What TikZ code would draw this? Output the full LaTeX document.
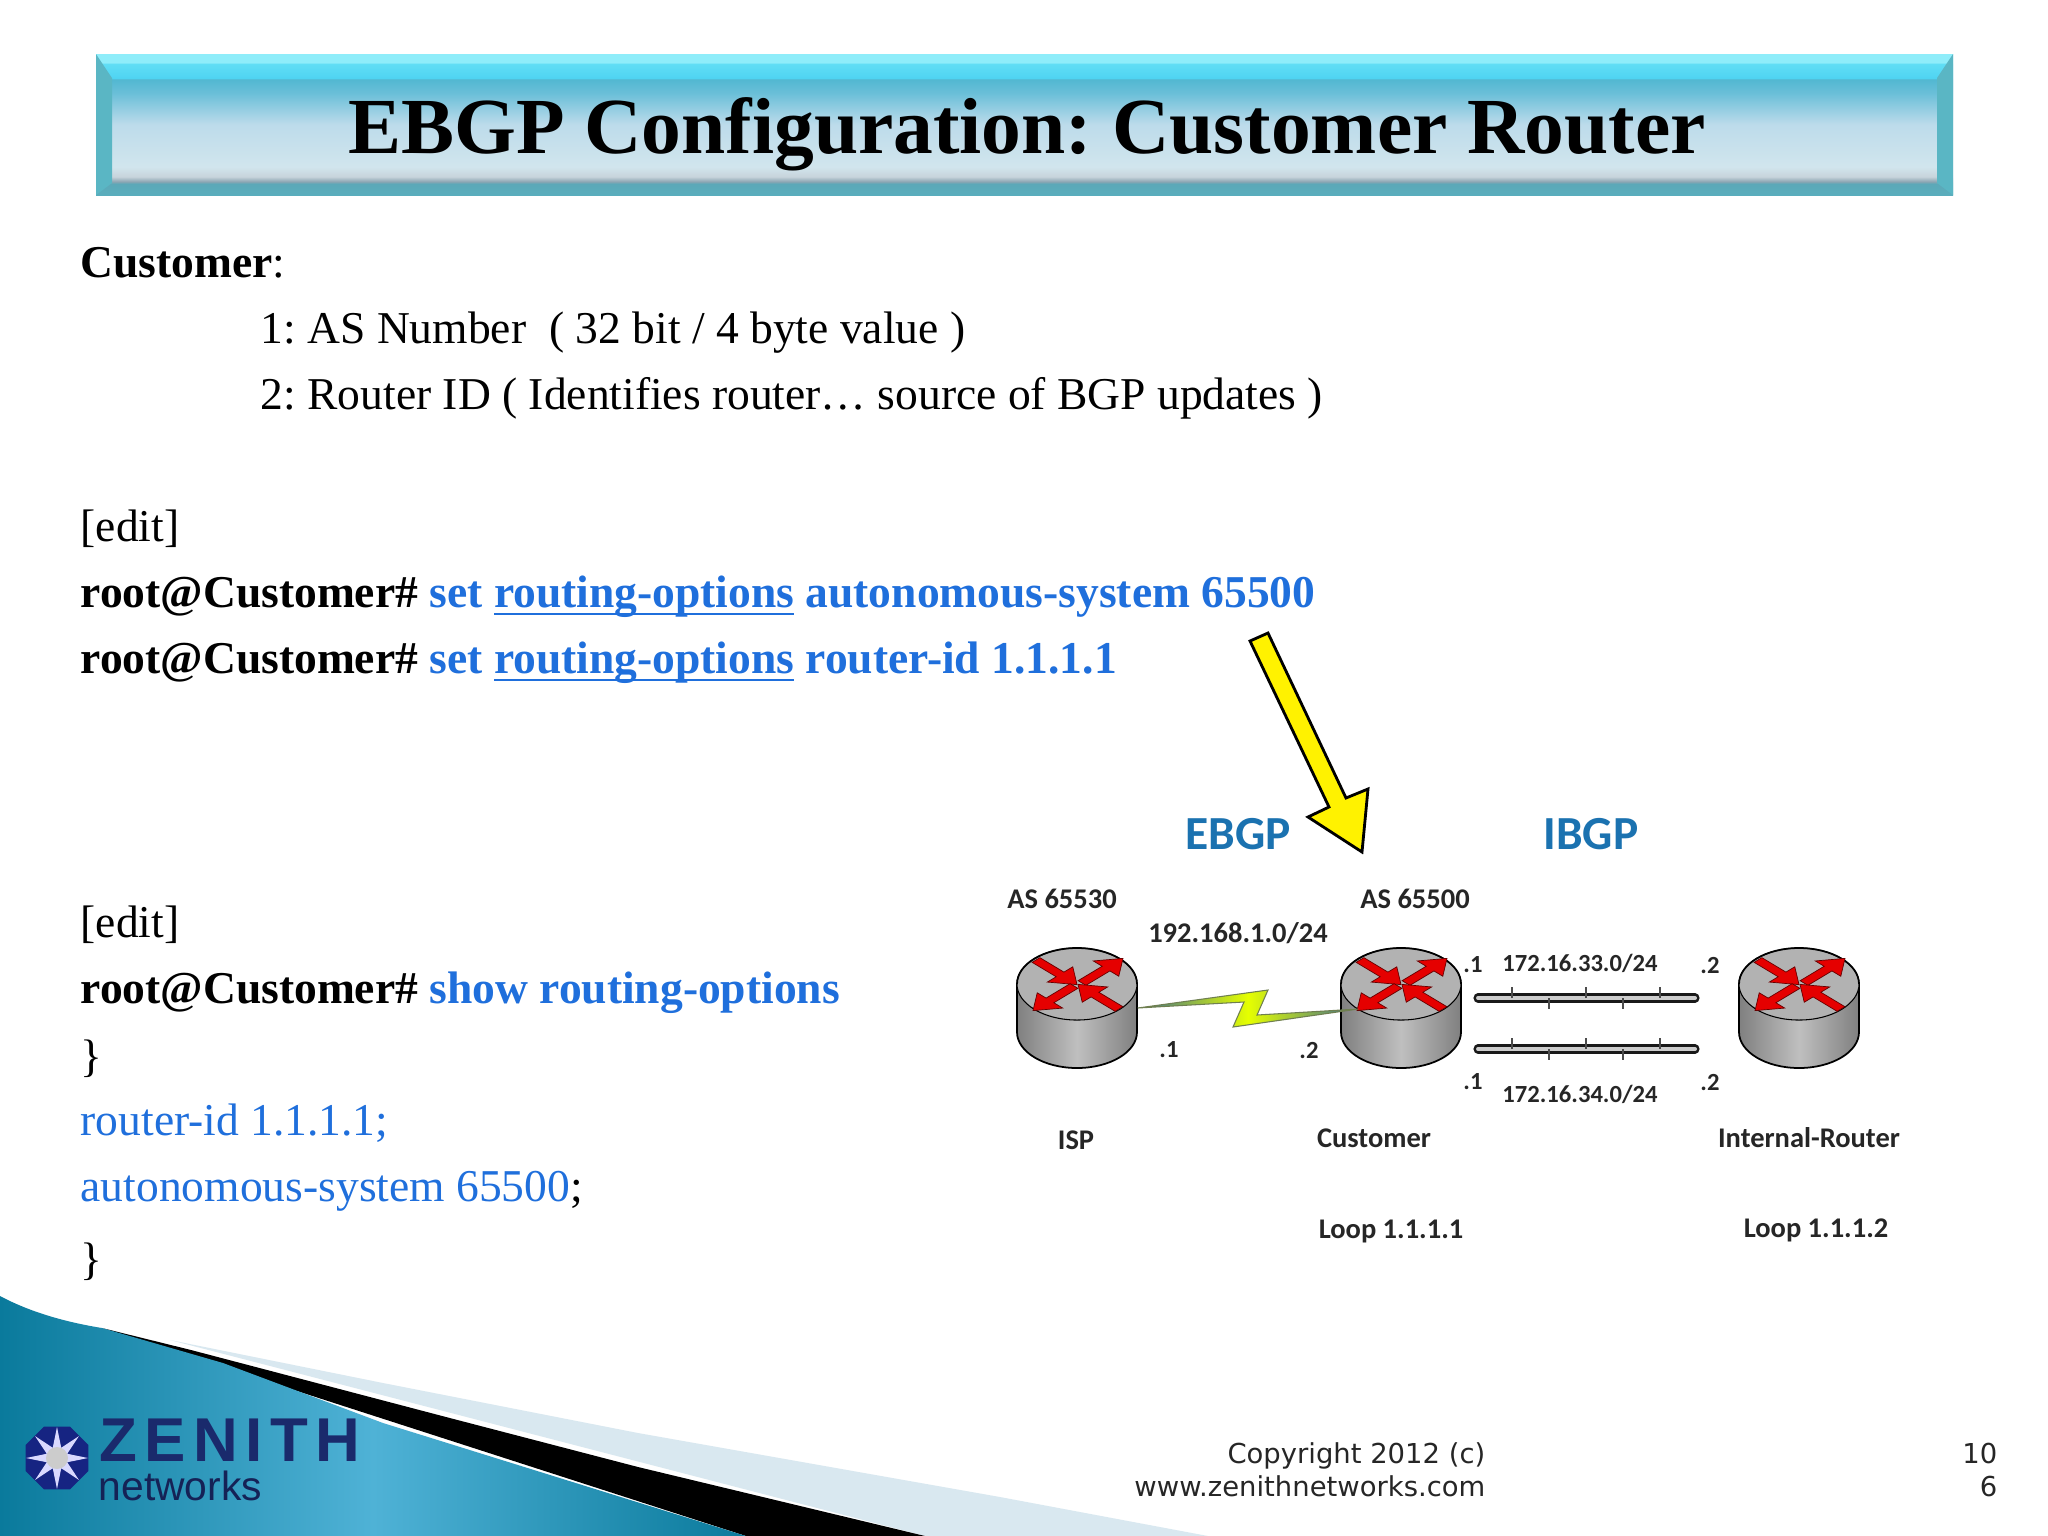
\documentclass[tikz,border=0pt]{standalone}
\usepackage{fontspec}
\setmainfont{Liberation Serif}
\newfontfamily\labelfont{Carlito}
\newfontfamily\footfont{DejaVu Sans}
\newfontfamily\logofont{Liberation Sans}
\usetikzlibrary{calc,shapes.geometric}
\definecolor{cmdblue}{HTML}{1F6FDC}
\definecolor{netblue}{HTML}{1B72B0}
\definecolor{lightfoot}{HTML}{D9E8F0}
\definecolor{logoblue}{HTML}{1A2A6C}
\definecolor{footdark}{HTML}{0A7A9C}
\definecolor{footlight}{HTML}{4FB2D6}
\definecolor{bandside}{HTML}{5AB6C4}
\definecolor{boltend}{HTML}{3A6E90}
\definecolor{boltedge}{HTML}{6F7F50}
\pgfdeclareverticalshading{bannerfill}{100bp}{
  rgb(0bp)=(.35,.68,.74);rgb(25bp)=(.35,.68,.74);rgb(29bp)=(.36,.66,.72);
  rgb(29.75bp)=(.55,.65,.7);rgb(31.5bp)=(.78,.83,.86);rgb(35bp)=(.82,.9,.93);
  rgb(50bp)=(.74,.86,.92);rgb(61bp)=(.42,.75,.85);rgb(66bp)=(.32,.72,.82);
  rgb(66.5bp)=(.31,.83,.95);rgb(71.5bp)=(.38,.87,.96);rgb(72bp)=(.56,.93,.98);
  rgb(100bp)=(.56,.93,.98)}
\newcommand{\thickul}[1]{\setbox0\hbox{#1}\rlap{\rule[-2.4pt]{\wd0}{.8pt}}#1}
\tikzset{
  body/.style={anchor=base west,inner sep=0pt,font=\frenchspacing\fontsize{12.95}{16}\selectfont},
  label/.style={inner sep=0pt,font=\labelfont\bfseries\fontsize{8.1}{10}\selectfont,text=black!85},
  small/.style={label,font=\labelfont\bfseries\fontsize{7}{9}\selectfont},
  foot/.style={anchor=base east,inner sep=0pt,font=\footfont\fontsize{7.8}{10}\selectfont,text=black!85},
  netname/.style={inner sep=0pt,text=netblue,font=\labelfont\bfseries\fontsize{13.5}{16}\selectfont},
  routernode/.style={inner sep=0pt,minimum width=1.2cm,minimum height=1.2cm},
  redarrow/.style={fill=red!90!black,draw=red!40!black,line width=0.2pt},
  barout/.style={line width=2.6pt,line cap=round,draw=black!90},
  barin/.style={line width=1.1pt,line cap=round,draw=black!20},
  tick/.style={line width=0.3pt,draw=black!70}
}
\newcommand{\router}[2]{
  \begin{scope}[shift={(#2,984)}]
    \node[routernode] (#1) at (0,24){};
    \shade[left color=black!50,right color=black!50,middle color=black!25,draw=black,line width=0.5pt]
      (-60,0)--(-60,48) .. controls (-60,68) and (-33,84) .. (0,84)
      .. controls (33,84) and (60,68) .. (60,48)--(60,0)--cycle;
    \draw[fill=black!30,line width=0.3pt] (0,0) ellipse [x radius=.6cm,y radius=.36cm];
    \draw[black,line width=0.5pt] (-60,0) .. controls (-60,-20) and (-33,-36) .. (0,-36)
      .. controls (33,-36) and (60,-20) .. (60,0);
    \foreach \ang/\dx/\dy in {-45/-41/-24,45/5/-1,225/-3/2,135/42/25}{
      \draw[redarrow,shift={(\dx,\dy)},yscale=.6,rotate=\ang]
        (0,-5.5)--(34,-5.5)--(34,-18)--(58,0)--(34,18)--(34,5.5)--(0,5.5)--cycle;
    }
  \end{scope}
}
\begin{document}
\begin{tikzpicture}[x=0.01cm,y=-0.01cm]
  \useasboundingbox (0,0) rectangle (2048,1536);
  \fill[white] (0,0) rectangle (2048,1536);
  \fill[lightfoot] (170,1340)--(383,1383)--(638,1433)--(1000,1497)--(1208,1536)--(925,1536)--cycle;
  \fill[black] (102,1328)--(191,1350)--(446,1417)--(638,1467)--(925,1536)--(746,1536)--cycle;
  \shade[left color=footdark,right color=footdark,middle color=footlight]
    (0,1296) .. controls (30,1312) and (65,1322) .. (102,1328)--(223,1363)--(383,1423)--(746,1536)--(0,1536)--cycle;
  % banner
  \shade[shading=bannerfill] (96,54) rectangle (1953,195);
  \fill[bandside] (96,54)--(112,78)--(112,183)--(96,195)--cycle;
  \fill[bandside] (1953,54)--(1937,78)--(1937,183)--(1953,195)--cycle;
  \node[inner sep=0pt,anchor=base,font=\frenchspacing\bfseries\fontsize{22.6}{26}\selectfont] (title) at (1027,153) {EBGP Configuration: Customer Router};
  % text
  \node[body] (cust) at (80,277) {\textbf{Customer}:};
  \node[body] (asnum) at (260,343) {1: AS Number\ \ ( 32 bit / 4 byte value )};
  \node[body] (rtrid) at (260,409) {2: Router ID ( Identifies router\ldots\ source of BGP updates )};
  \node[body] (edita) at (80,541) {[edit]};
  \node[body] (seta) at (80,607) {\textbf{root@Customer\# \textcolor{cmdblue}{set \thickul{routing-options} autonomous-system 65500}}};
  \node[body] (setb) at (80,673) {\textbf{root@Customer\# \textcolor{cmdblue}{set \thickul{routing-options} router-id 1.1.1.1}}};
  \node[body] (editb) at (80,937) {[edit]};
  \node[body] (show) at (80,1003) {\textbf{root@Customer\# \textcolor{cmdblue}{show routing-options}}};
  \node[body] (bropen) at (80,1071) {\}};
  \node[body,text=cmdblue] (rid) at (80,1135) {router-id 1.1.1.1;};
  \node[body] (asys) at (80,1201) {\textcolor{cmdblue}{autonomous-system 65500};};
  \node[body] (brclose) at (80,1274) {\}};
  % routers
  \router{isp}{1077}
  \router{customer}{1401}
  \router{internal}{1799}
  \shade[left color=boltend,right color=boltend,middle color=yellow!90!green,draw=boltedge,line width=0.3pt]
    (isp.east)--(1268,990)--(1257,1015)--($(customer.west)+(18,1)$)--(1233,1027)--(1244,1002)--cycle;
  % links
  \coordinate (lanal) at (1478,998);
  \coordinate (lanar) at (1695,998);
  \coordinate (lanbl) at (1478,1049);
  \coordinate (lanbr) at (1695,1049);
  \foreach \a/\b in {lanal/lanar,lanbl/lanbr}{
    \draw[barout] (\a)--(\b);
    \draw[barin] (\a)--(\b);
    \foreach \t in {34,108,182}{\draw[tick] ($(\a)+(\t,0)$)--++(0,-11);}
    \foreach \t in {71,145}{\draw[tick] ($(\a)+(\t,0)$)--++(0,11);}
  }
  % yellow arrow
  \draw[fill=yellow,line width=0.8pt,line join=miter] (1250,641)--(1268,633)--(1346,798)--(1368,789)--(1362,852)--(1308,817)--(1329,807)--cycle;
  % labels
  \node[netname] (ebgp) at (1238,834) {EBGP};
  \node[netname] (ibgp) at (1591,834) {IBGP};
  \node[label] (asa) at (1062,899) {AS 65530};
  \node[label] (asb) at (1415,899) {AS 65500};
  \node[label] (neta) at (1238,933) {192.168.1.0/24};
  \node[small] (netb) at (1580,963) {172.16.33.0/24};
  \node[small] (netc) at (1580,1094) {172.16.34.0/24};
  \node[small] (ia) at (1169,1050) {.1};
  \node[small] (ib) at (1309,1050) {.2};
  \node[small] (ic) at (1473,965) {.1};
  \node[small] (id) at (1710,965) {.2};
  \node[small] (ie) at (1473,1082) {.1};
  \node[small] (if) at (1710,1082) {.2};
  \node[label] (nisp) at (1076,1140) {ISP};
  \node[label] (ncust) at (1374,1138) {Customer};
  \node[label] (nint) at (1809,1138) {Internal-Router};
  \node[label] (loopa) at (1391,1231) {Loop 1.1.1.1};
  \node[label] (loopb) at (1816,1230) {Loop 1.1.1.2};
  % logo
  \node[regular polygon,regular polygon sides=8,fill=logoblue!85!blue,minimum size=.68cm,inner sep=0pt] (octa) at (57,1458){};
  \node[star,star points=8,star point ratio=2.8,fill=white!85!blue,minimum size=.62cm,inner sep=0pt] (burst) at (octa){};
  \fill[black!20] (octa) circle (.11cm);
  \node[anchor=base west,inner sep=0pt,text=logoblue,font=\logofont\bfseries\fontsize{17.6}{20}\selectfont\addfontfeature{LetterSpace=12}] (zen) at (99,1461) {ZENITH};
  \node[anchor=base west,inner sep=0pt,text=logoblue!80!black,font=\logofont\fontsize{11.6}{14}\selectfont] (nets) at (98,1500) {networks};
  % footer
  \node[foot] (copy) at (1486,1463) {Copyright 2012 (c)};
  \node[foot] (www) at (1486,1496) {www.zenithnetworks.com};
  \node[foot] (pga) at (1998,1463) {10};
  \node[foot] (pgb) at (1998,1496) {6};
\end{tikzpicture}
\end{document}
